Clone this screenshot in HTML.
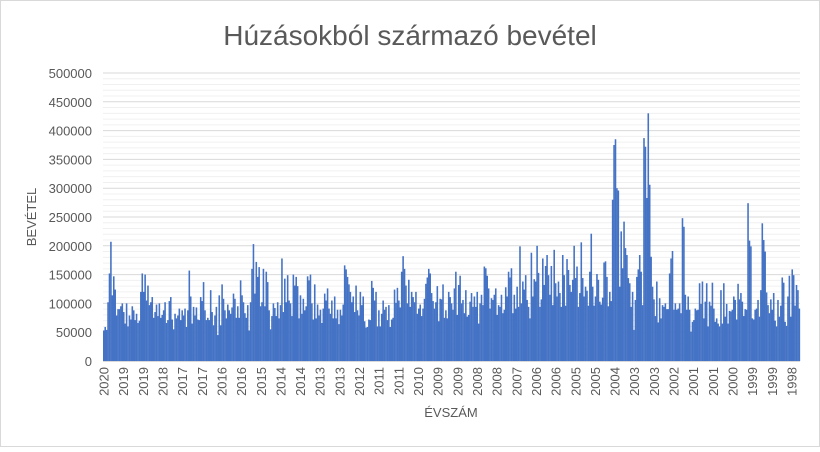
<!DOCTYPE html>
<html><head><meta charset="utf-8"><style>
body{margin:0;background:#fff;}
svg text{font-family:"Liberation Sans",sans-serif;fill:#595959;}
</style></head><body>
<svg id="chart" width="820" height="447" xmlns="http://www.w3.org/2000/svg">
<rect x="0.5" y="0.5" width="819" height="446" fill="#fff" stroke="#d9d9d9"/>
<text x="410" y="45" font-size="28" text-anchor="middle">Húzásokból származó bevétel</text>
<text transform="translate(36,217) rotate(-90)" font-size="13" text-anchor="middle">BEVÉTEL</text>
<text x="451" y="417" font-size="13" text-anchor="middle">ÉVSZÁM</text>
<g id="grid"></g><g id="bars"></g><g id="yticks"></g><g id="xticks"></g>
</svg>
<script>
const yTicks=[0,50000,100000,150000,200000,250000,300000,350000,400000,450000,500000];
const xLabels=["2020","2019","2019","2018","2017","2017","2016","2016","2015","2014","2014","2013","2013","2012","2011","2011","2010","2009","2009","2008","2008","2007","2006","2006","2005","2005","2004","2003","2003","2002","2001","2001","2000","1999","1999","1998"];
const seg2020to2013=[53,59,54,102,152,207,114,147,124,79,90,90,95,100,85,65,100,60,79,72,95,88,71,82,66,70,120,152,120,150,105,131,97,102,111,75,85,98,78,100,75,80,88,102,66,71,104,111,72,55,82,74,79,91,71,88,79,91,59,88,157,112,65,94,79,93,72,71,111,104,137,88,71,75,71,123,85,62,79,94,45,114,62,133,108,88,74,98,88,82,93,117,108,75,95,75,140,114,102,83,75,97,53,102,160,203,117,172,146,163,95,102,160,95,155,137,88,55,78,100,92];
const seg2013to2007=[78,102,74,97,178,85,143,102,149,105,100,78,150,131,146,130,74,114,82,108,88,95,147,140,150,100,72,133,74,98,79,89,66,91,117,105,126,91,82,105,74,112,74,89,64,89,79,98,166,159,146,133,120,102,112,85,131,88,79,120,97,112,69,58,59,72,71,139,127,105,120,60,88,60,82,105,89,94,71,97,59,72,75,124,101,127,105,93,155,182,160,131,100,141,94,120,111,102,120,82,91,98,78,91,108,134,145,160,152,118,104,91,102,130,69,108,107,133,75,88,74,120,111];
const seg2007to2003=[100,89,126,155,80,132,148,100,106,83,123,77,80,103,118,94,112,94,120,65,100,115,97,164,161,148,126,91,109,106,115,126,80,97,94,115,83,89,128,112,155,145,161,83,115,91,129,94,199,100,138,124,149,106,94,74,188,112,142,138,200,153,94,107,178,132,165,184,149,115,165,97,193,135,112,138,118,94,184,149,96,177,158,132,120,141,200,144,164,94,118,206,144,112,129,122,96,155,221,129,96,112,151,141,103,98,110,171,173,146,95,120,104,280,375,385,300];
const seg2003to1998=[296,129,225,161,242,196,184,144,135,94,120,54,106,146,159,184,155,97,387,372,283,430,306,181,129,107,78,138,67,109,74,97,94,100,90,90,152,178,191,89,100,89,91,100,83,248,233,115,89,112,89,51,68,71,91,88,89,135,99,138,74,103,135,60,103,96,136,91,68,74,65,60,123,65,135,77,99,65,87,86,89,112,106,72,134,107,118,103,78,90,89,274,209,199,74,72,89,91,106,77,123,239,210,190,119,97,83,107,89,118,70,60,106,77,96,145,136,68,61,112,148,77,159,149,96,132,123,91];
const values=[].concat(seg2020to2013,seg2013to2007,seg2007to2003,seg2003to1998).map(v=>v*1000);

const NS="http://www.w3.org/2000/svg";
const X0=103,X1=800,Y0=361,Y1=73,YMAX=500000;
const yScale=v=>Y0-(v/YMAX)*(Y0-Y1);
const bw=(X1-X0)/values.length;
const xScale=i=>X0+i*bw;
const grid=document.getElementById('grid');
for(let v=10000;v<=YMAX;v+=10000){
  const l=document.createElementNS(NS,'line');
  const major=v%50000===0;
  l.setAttribute('x1',X0);l.setAttribute('x2',X1);
  l.setAttribute('y1',yScale(v));l.setAttribute('y2',yScale(v));
  l.setAttribute('stroke',major?'#d9d9d9':'#f0f0f0');l.setAttribute('stroke-width',1);
  
  
  grid.appendChild(l);
}
const bars=document.getElementById('bars');
values.forEach((v,i)=>{
  const r=document.createElementNS(NS,'rect');
  r.setAttribute('x',xScale(i));r.setAttribute('width',bw+0.15);
  r.setAttribute('y',yScale(v));r.setAttribute('height',Y0-yScale(v));
  r.setAttribute('fill','#4472c4');
  
  
  bars.appendChild(r);
});
const ax=document.createElementNS(NS,'line');
ax.setAttribute('x1',X0);ax.setAttribute('x2',X1);ax.setAttribute('y1',Y0+0.5);ax.setAttribute('y2',Y0+0.5);
ax.setAttribute('stroke','#d9d9d9');


bars.appendChild(ax);
const yt=document.getElementById('yticks');
yTicks.forEach(v=>{
  const t=document.createElementNS(NS,'text');
  t.setAttribute('x',92);t.setAttribute('y',yScale(v)+5);
  t.setAttribute('text-anchor','end');t.setAttribute('font-size','13');
  t.textContent=String(v);
  
  
  yt.appendChild(t);
});
const xt=document.getElementById('xticks');
const step=(792-104)/(xLabels.length-1);
xLabels.forEach((s,i)=>{
  const x=104+i*step;
  const t=document.createElementNS(NS,'text');
  t.setAttribute('transform','translate('+(x+4.5)+',367) rotate(-90)');
  t.setAttribute('text-anchor','end');t.setAttribute('font-size','13');
  t.textContent=s;
  
  
  xt.appendChild(t);
});
</script>
</body></html>
